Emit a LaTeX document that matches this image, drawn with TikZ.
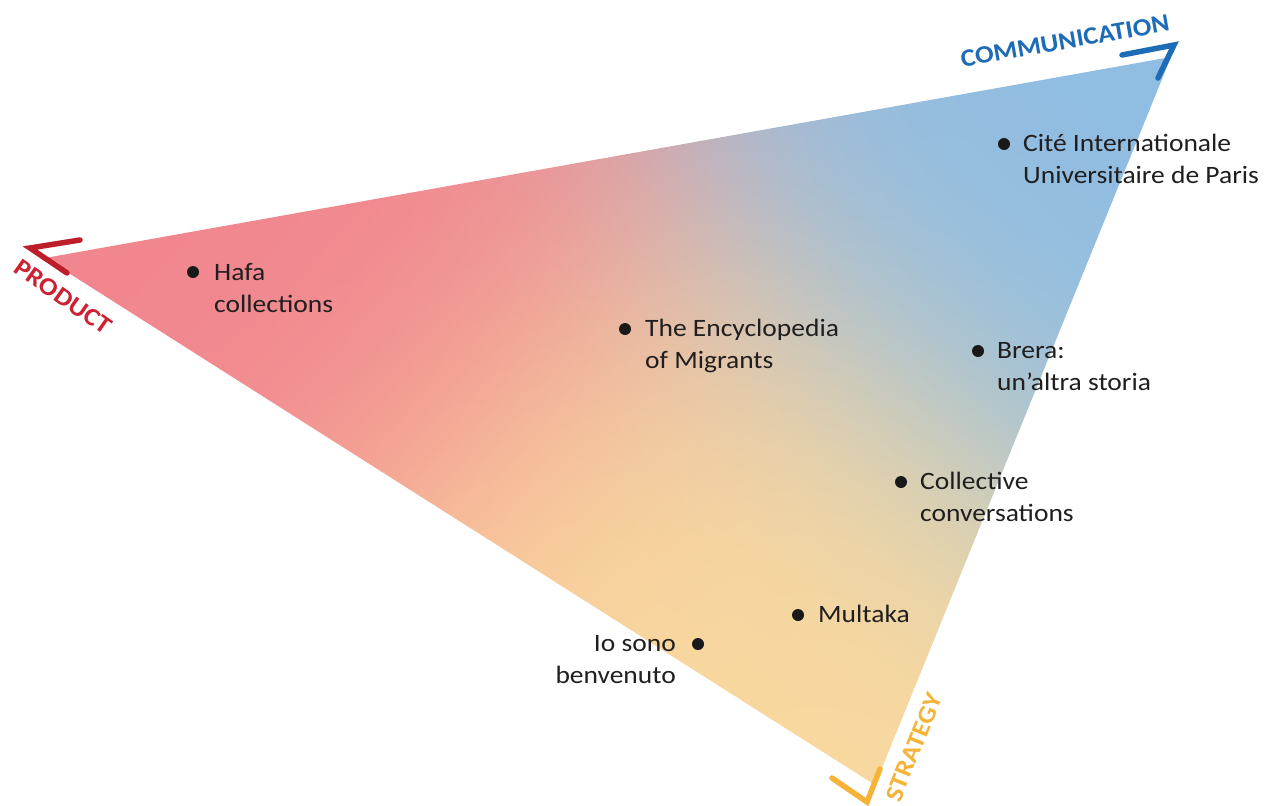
\documentclass[tikz,border=0pt]{standalone}
\usepackage{fontspec}
\setmainfont{Carlito}[FakeStretch=1.1]
\definecolor{prodred}{RGB}{205,32,50}
\definecolor{prodbracket}{RGB}{190,30,42}
\definecolor{commblue}{RGB}{30,108,182}
\definecolor{stratorange}{RGB}{245,180,55}
\definecolor{labeltext}{RGB}{32,30,30}
% soft blend of three colours (pink, blue, yellow)
\pgfdeclarefunctionalshading{triblend}{\pgfpoint{-50bp}{-50bp}}{\pgfpoint{50bp}{50bp}}{}{
 1 index 22.52 mul 408 add dup mul 1 index -14.56 mul 191 add dup mul add 0.0000083333 mul neg 2.71828 exch exp 3 1 roll
 1 index 22.52 mul -542 add dup mul 1 index -14.56 mul 311 add dup mul add 0.0000083333 mul neg 2.71828 exch exp 3 1 roll
 1 index 22.52 mul -72 add dup mul 1 index -14.56 mul -279 add dup mul add 0.0000083333 mul neg 2.71828 exch exp 3 1 roll
 pop pop
 2 index 0.945 mul 2 index 0.56 mul add 1 index 0.98 mul add
 3 index 0.52 mul 3 index 0.74 mul add 2 index 0.85 mul add
 4 index 0.56 mul 4 index 0.89 mul add 3 index 0.62 mul add
 5 index 5 index add 4 index add
 1 exch div
 exch 1 index mul 3 1 roll
 exch 1 index mul 3 1 roll
 4 -1 roll mul 3 1 roll
 6 3 roll pop pop pop
}
\begin{document}
\begin{tikzpicture}[x=1pt,y=-1pt,
  dot/.style={circle,fill=black!90,inner sep=0pt,minimum size=12pt},
  lbl/.style={inner sep=0pt,font=\fontsize{25}{32.5}\selectfont,text=labeltext},
  cornerlabel/.style={inner sep=0pt,font=\fontsize{25}{30}\selectfont\bfseries},
  bracket/.style={line width=5.5pt,line cap=round,line join=miter}]
\useasboundingbox (0,0) rectangle (1275,806);
\fill[white] (0,0) rectangle (1275,806);
\coordinate (A) at (45,258);
\coordinate (B) at (1171,57);
\coordinate (C) at (875,785);
\shade[shading=triblend] (A) -- (B) -- (C) -- cycle;
% corner brackets
\draw[bracket,draw=prodbracket] (80,240) -- (30,248) -- (67,273);
\draw[bracket,draw=commblue] (1122,55) -- (1174,45) -- (1158,78);
\draw[bracket,draw=stratorange] (832,778) -- (867,802) -- (880,769);
% corner labels
\node[cornerlabel,text=prodred,rotate=-35] (lp) at (63,297) {PRODUCT};
\node[cornerlabel,text=commblue,rotate=10] (lc) at (1065,41) {COMMUNICATION};
\node[cornerlabel,text=stratorange,rotate=68] (ls) at (914,747) {STRATEGY};
% points
\node[dot] (d1) at (193,272) {};
\node[lbl,anchor=base west] (t1) at (214,280) {\begin{tabular}[t]{@{}l@{}}Hafa\\collections\end{tabular}};
\node[dot] (d2) at (625,329) {};
\node[lbl,anchor=base west] (t2) at (645,336) {\begin{tabular}[t]{@{}l@{}}The Encyclopedia\\of Migrants\end{tabular}};
\node[dot] (d3) at (1004,144) {};
\node[lbl,anchor=base west] (t3) at (1023,151) {\begin{tabular}[t]{@{}l@{}}Cité Internationale\\Universitaire de Paris\end{tabular}};
\node[dot] (d4) at (978,351) {};
\node[lbl,anchor=base west] (t4) at (997,358) {\begin{tabular}[t]{@{}l@{}}Brera:\\un’altra storia\end{tabular}};
\node[dot] (d5) at (901,482) {};
\node[lbl,anchor=base west] (t5) at (920,489) {\begin{tabular}[t]{@{}l@{}}Collective\\conversations\end{tabular}};
\node[dot] (d6) at (798,615) {};
\node[lbl,anchor=base west] (t6) at (818,622) {Multaka};
\node[dot] (d7) at (698,644) {};
\node[lbl,anchor=base east] (t7) at (676,651) {\begin{tabular}[t]{@{}r@{}}Io sono\\benvenuto\end{tabular}};
\end{tikzpicture}
\end{document}
